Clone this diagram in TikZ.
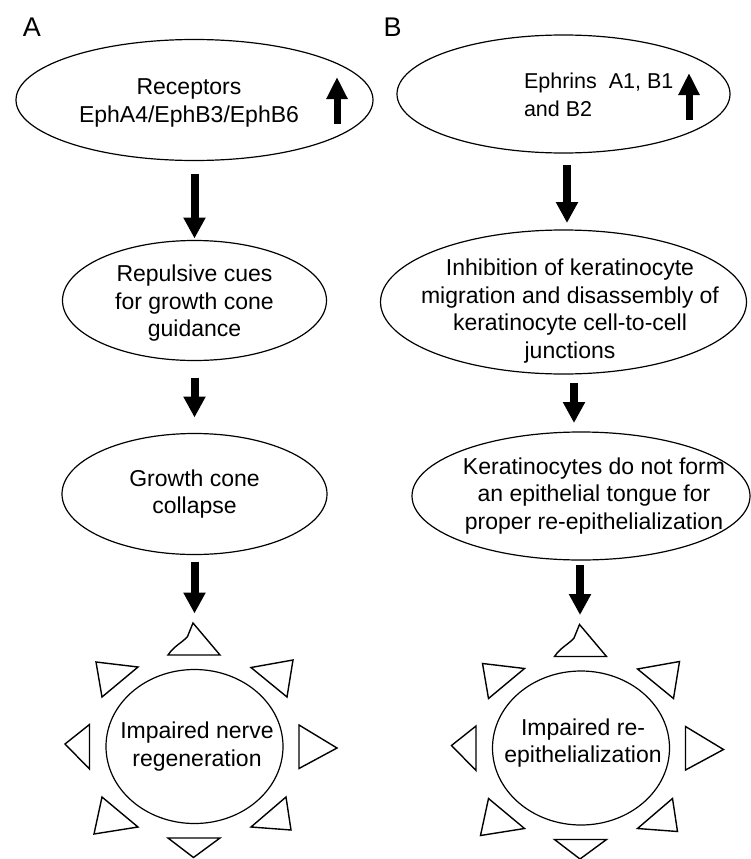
\documentclass[tikz,border=0pt]{standalone}
\usepackage{fontspec}
\setmainfont{Liberation Sans}
\usetikzlibrary{shapes.geometric,arrows.meta,positioning}

% triangles round the last circle of a column
\newcommand{\drawrays}{%
  \draw[ray] (-26.5,-91.5) .. controls (-20,-101) and (-12,-104) .. (-7,-110) -- (-1.5,-123.5) -- (25.5,-91.5) -- cycle;
  \draw[ray] (-98.5,-84.5) -- (-56.5,-79.5) -- (-92.5,-49.5) -- cycle;
  \draw[ray] (56.5,-79) -- (98.5,-86.5) -- (92.5,-49.5) -- cycle;
  \draw[ray] (-129.5,-2.5) -- (-105,-22) -- (-105,22.5) -- cycle;
  \draw[ray] (104.5,-21.5) -- (142.5,1.5) -- (104.5,22) -- cycle;
  \draw[ray] (-100.5,87.5) -- (-92.5,50.5) -- (-56.5,80.5) -- cycle;
  \draw[ray] (56.5,80.5) -- (91.5,50.5) -- (96.5,83.5) -- cycle;
  \draw[ray] (-26.5,91.5) -- (25.5,91.5) -- (-1,111) -- cycle;
}

\begin{document}
\begin{tikzpicture}[
  x=1pt,
  y=-1pt,
  node distance=70pt,
  blob/.style={
    ellipse,
    draw=black,
    line width=1.2pt,
    inner sep=0pt,
    outer sep=0pt
  },
  txt/.style={
    align=center,
    font=\fontsize{23}{27.5}\selectfont
  },
  smalltxt/.style={
    align=left,
    font=\fontsize{21.5}{27.5}\selectfont
  },
  panel/.style={
    font=\fontsize{27}{30}\selectfont,
    inner sep=0pt
  },
  bigarrow/.style={
    -{Triangle[width=21pt,length=21pt]},
    line width=8pt,
    draw=black
  },
  uparrow/.style={
    -{Triangle[width=20pt,length=22pt]},
    line width=7pt,
    draw=black
  },
  ray/.style={
    draw=black,
    line width=1.4pt,
    line join=miter
  }
]
\useasboundingbox (0,0) rectangle (751,859);

% Panel labels
\node[panel] (labA) at (32,27) {A};
\node[panel] (labB) at (392.5,27.5) {B};

% Column A
\node[blob, minimum width=357pt, minimum height=121pt] (a1) at (194.5,100) {};
\node[blob, minimum width=264pt, minimum height=120pt, below=80pt of a1] (a2) {};
\node[blob, minimum width=265pt, minimum height=121pt, below=73pt of a2] (a3) {};
\node[blob, minimum width=177pt, minimum height=154pt, below=115pt of a3] (a4) {};

\node[txt] (a1t) at ([xshift=-5.5pt,yshift=-3pt]a1) {Receptors\\EphA4/EphB3/EphB6};
\node[txt] (a2t) at ([yshift=-3pt]a2) {Repulsive cues\\for growth cone\\guidance};
\node[txt] (a3t) at (a3) {Growth cone\\collapse};
\node[txt] (a4t) at ([xshift=2.5pt]a4) {Impaired nerve\\regeneration};

% Column B
\node[blob, minimum width=333pt, minimum height=118pt] (b1) at (563.5,94) {};
\node[blob, minimum width=366pt, minimum height=144pt, below=77pt of b1] (b2) {};
\node[blob, minimum width=338pt, minimum height=128pt, below=58pt of b2, xshift=17.5pt] (b3) {};
\node[blob, minimum width=177pt, minimum height=154pt, below=111pt of b3] (b4) {};

\node[smalltxt, anchor=west] (b1t) at ([xshift=-43pt,yshift=-1pt]b1) {Ephrins\ \ A1, B1\\and B2};
\node[txt] (b2t) at ([xshift=6.5pt,yshift=-9pt]b2) {Inhibition of keratinocyte\\migration and disassembly of\\keratinocyte cell-to-cell\\junctions};
\node[txt] (b3t) at ([xshift=13pt]b3) {Keratinocytes do not form\\an epithelial tongue for\\proper re-epithelialization};
\node[txt] (b4t) at ([xshift=2pt,yshift=5pt]b4) {Impaired re-\\epithelialization};

% Up arrows
\draw[uparrow] ([xshift=142.5pt,yshift=-24pt]a1.center) -- ++(0,-47);
\draw[uparrow] ([xshift=125.5pt,yshift=-26pt]b1.center) -- ++(0,-47);

% Arrows A
\draw[bigarrow, shorten <=13pt, shorten >=2pt] (a1) -- (a2);
\draw[bigarrow, shorten <=17pt, shorten >=16pt] (a2) -- (a3);
\draw[bigarrow, shorten <=7pt, shorten >=56pt] (a3) -- (a4);

% Arrows B
\draw[bigarrow, shorten <=12pt, shorten >=7pt] ([xshift=3.5pt]b1.south) -- ([xshift=3.5pt]b2.north);
\draw[bigarrow, shorten <=9pt, shorten >=9pt] ([xshift=10.5pt]b2.south) -- ([xshift=-7pt]b3.north);
\draw[bigarrow, shorten <=5pt, shorten >=56pt] ([xshift=-1pt]b3.south) -- ([xshift=-1pt]b4.north);

% Rays
\begin{scope}[shift={(a4)}]
  \drawrays
\end{scope}
\begin{scope}[shift={(b4)}]
  \drawrays
\end{scope}

\end{tikzpicture}
\end{document}
